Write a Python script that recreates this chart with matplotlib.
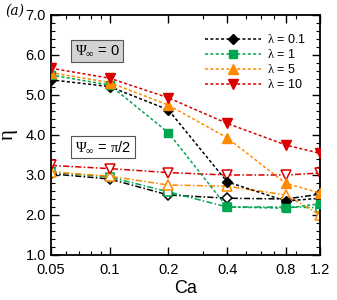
import numpy as np
import matplotlib
matplotlib.use("Agg")
import matplotlib.pyplot as plt
from matplotlib.ticker import FixedLocator, NullFormatter, LogLocator, MultipleLocator

plt.rcParams['font.family'] = ['Liberation Sans', 'DejaVu Sans']
plt.rcParams['mathtext.fontset'] = 'custom'
plt.rcParams['mathtext.rm'] = 'Liberation Serif'
plt.rcParams['mathtext.it'] = 'Liberation Serif'
plt.rcParams['mathtext.bf'] = 'Liberation Serif:bold'

ca = [0.05, 0.1, 0.2, 0.4, 0.8, 1.2]
lambdas = ["0.1", "1", "5", "10"]

# Psi_inf = 0 (filled markers)
eta_psi0 = {
    "0.1": [5.38, 5.21, 4.63, 2.83, 2.35, 2.42],
    "1":   [5.50, 5.25, 4.06, 2.20, 2.17, 2.28],
    "5":   [5.56, 5.31, 4.75, 3.93, 2.79, 2.55],
    "10":  [5.67, 5.42, 4.93, 4.29, 3.75, 3.54],
}
# Psi_inf = pi/2 (open markers)
eta_psi90 = {
    "0.1": [3.03, 2.90, 2.50, 2.42, 2.40, 2.52],
    "1":   [3.07, 2.95, 2.58, 2.20, 2.20, 2.18],
    "5":   [3.08, 2.97, 2.75, 2.72, 2.50, 2.00],
    "10":  [3.24, 3.16, 3.06, 3.00, 3.00, 3.05],
}

colores = {"0.1": "black", "1": "#00a650", "5": "#ff8a00", "10": "#d90000"}
marcadores = {"0.1": "D", "1": "s", "5": "^", "10": "v"}
tamanhos = {"0.1": 5.5, "1": 5.5, "5": 7, "10": 7}

fig = plt.figure(figsize=(3.37, 3.0), dpi=100)
ax = fig.add_axes([0.151, 0.15, 0.799, 0.80])

for lam in lambdas:
    c = colores[lam]
    ax.plot(ca, eta_psi90[lam], color=c, linestyle=(0, (4, 1.5, 1, 1.5)), linewidth=1.1,
            marker=marcadores[lam], markersize=tamanhos[lam], markerfacecolor="white",
            markeredgecolor=c, markeredgewidth=1.1, zorder=2)

for lam in lambdas:
    c = colores[lam]
    ax.plot(ca, eta_psi0[lam], color=c, linestyle=(0, (2, 1.5)), linewidth=1.1,
            marker=marcadores[lam], markersize=tamanhos[lam], markerfacecolor=c,
            markeredgecolor=c, label=r"$\lambda$ = " + lam, zorder=3)

ax.set_xscale("log")
ax.set_xlim(0.05, 1.2)
ax.set_ylim(1.0, 7.0)
ax.xaxis.set_major_locator(FixedLocator(ca))
ax.set_xticklabels(["0.05", "0.1", "0.2", "0.4", "0.8", "1.2"])
ax.xaxis.set_minor_locator(LogLocator(base=10, subs=np.arange(2, 10)))
ax.xaxis.set_minor_formatter(NullFormatter())
ax.yaxis.set_major_locator(MultipleLocator(1.0))
ax.yaxis.set_minor_locator(MultipleLocator(0.2))
ax.set_yticks([1, 2, 3, 4, 5, 6, 7])
ax.set_yticklabels(["1.0", "2.0", "3.0", "4.0", "5.0", "6.0", "7.0"])

ax.tick_params(which="both", direction="in", top=True, right=True, labelsize=10.5)
ax.tick_params(which="major", length=6, width=1)
ax.tick_params(which="minor", length=3, width=0.8)
ax.tick_params(axis="x", pad=6)
for s in ax.spines.values():
    s.set_linewidth(1.3)

ax.set_xlabel("Ca", fontsize=13, labelpad=2)
ax.set_ylabel(r"$\eta$", fontsize=15, labelpad=4)

ax.legend(loc="upper right", bbox_to_anchor=(0.99, 0.97), frameon=False, fontsize=9,
          handlelength=4.5, handletextpad=0.5, labelspacing=0.15, numpoints=1)

fig.text(0.015, 0.965, "(a)", fontsize=10, style="italic", family="DejaVu Serif", va="center")

ax.text(0.222, 0.83, r"$\Psi_\infty$ = 0", transform=fig.transFigure, fontsize=10.5,
        ha="left", va="center",
        bbox=dict(boxstyle="square,pad=0.25", facecolor="#d3d3d3", edgecolor="#555555", linewidth=0.8))
ax.text(0.222, 0.51, r"$\Psi_\infty$ = $\pi$/2", transform=fig.transFigure, fontsize=10.5,
        ha="left", va="center",
        bbox=dict(boxstyle="square,pad=0.25", facecolor="white", edgecolor="#555555", linewidth=0.8))

fig.savefig("out.png", dpi=100)
